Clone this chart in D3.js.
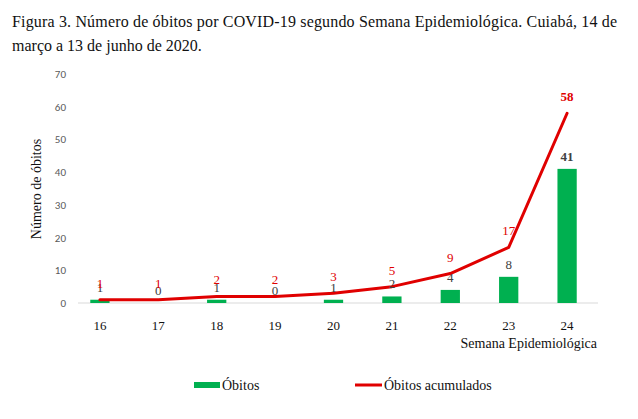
<!DOCTYPE html>
<html lang="pt">
<head>
  <meta charset="UTF-8">
  <title>Figura 3</title>
  <style>
    body { margin: 0; background: #fff; }
    svg text { font-family: 'Liberation Serif', 'Times New Roman', serif; }
  </style>
</head>
<body>
  <svg id="svg" width="638" height="419"></svg>

  <script src="https://d3js.org/d3.v7.min.js"></script>
  <script>
    const semanas = ['16', '17', '18', '19', '20', '21', '22', '23', '24']
    const obitos = [1, 0, 1, 0, 1, 2, 4, 8, 41]
    const acumulados = [1, 1, 2, 2, 3, 5, 9, 17, 58]
    const yTicks = [0, 10, 20, 30, 40, 50, 60, 70]

    const green = '#00b050'
    const red = '#e00000'

    const svg = d3.select('#svg')

    // title
    svg.append('text')
      .attr('x', 12).attr('y', 27)
      .attr('textLength', 605).attr('lengthAdjust', 'spacing')
      .style('font-size', '16px').attr('fill', '#111')
      .text('Figura 3. Número de óbitos por COVID-19 segundo Semana Epidemiológica. Cuiabá, 14 de')
    svg.append('text')
      .attr('x', 12).attr('y', 51)
      .style('font-size', '16px').attr('fill', '#111')
      .text('março a 13 de junho de 2020.')

    const x = d3.scaleBand()
      .domain(semanas)
      .range([71, 596])
      .paddingInner(0.67)
      .paddingOuter(0.33)

    const y = d3.scaleLinear()
      .domain([0, 70])
      .range([303, 74])

    // y axis labels
    svg.append('g')
      .selectAll('text')
      .data(yTicks)
      .enter()
      .append('text')
      .attr('x', 66)
      .attr('y', d => y(d) + 4)
      .attr('text-anchor', 'end')
      .style('font-family', 'Calibri, Carlito, "Liberation Sans", sans-serif')
      .style('font-size', '11px')
      .attr('fill', '#595959')
      .text(d => d)

    // baseline
    svg.append('line')
      .attr('x1', 78).attr('x2', 598)
      .attr('y1', y(0)).attr('y2', y(0))
      .attr('stroke', '#d9d9d9').attr('stroke-width', 1)

    // bars
    svg.append('g')
      .selectAll('rect')
      .data(obitos)
      .enter()
      .append('rect')
      .attr('x', (d, i) => x(semanas[i]))
      .attr('width', x.bandwidth())
      .attr('y', d => y(d))
      .attr('height', d => y(0) - y(d))
      .attr('fill', green)

    // line (straight segments)
    const line = d3.line()
      .x((d, i) => x(semanas[i]) + x.bandwidth() / 2)
      .y(d => y(d))

    svg.append('path')
      .datum(acumulados)
      .attr('d', line)
      .attr('fill', 'none')
      .attr('stroke', red)
      .attr('stroke-width', 3)
      .attr('stroke-linecap', 'round')
      .attr('stroke-linejoin', 'round')

    // bar labels
    svg.append('g')
      .selectAll('text')
      .data(obitos)
      .enter()
      .append('text')
      .attr('x', (d, i) => x(semanas[i]) + x.bandwidth() / 2)
      .attr('y', d => y(d) - 8)
      .attr('text-anchor', 'middle')
      .style('font-size', '13px')
      .style('font-weight', (d, i) => i === obitos.length - 1 ? 'bold' : 'normal')
      .attr('fill', '#404040')
      .text(d => d)

    // cumulative labels
    svg.append('g')
      .selectAll('text')
      .data(acumulados)
      .enter()
      .append('text')
      .attr('x', (d, i) => x(semanas[i]) + x.bandwidth() / 2)
      .attr('y', d => y(d) - 12)
      .attr('text-anchor', 'middle')
      .style('font-size', '13px')
      .style('font-weight', (d, i) => i === acumulados.length - 1 ? 'bold' : 'normal')
      .attr('fill', red)
      .text(d => d)

    // x tick labels
    svg.append('g')
      .selectAll('text')
      .data(semanas)
      .enter()
      .append('text')
      .attr('x', d => x(d) + x.bandwidth() / 2)
      .attr('y', 330)
      .attr('text-anchor', 'middle')
      .style('font-size', '13px')
      .attr('fill', '#111')
      .text(d => d)

    // axis titles
    svg.append('text')
      .attr('x', 597).attr('y', 348)
      .attr('text-anchor', 'end')
      .style('font-size', '14px')
      .attr('fill', '#111')
      .text('Semana Epidemiológica')

    svg.append('text')
      .attr('transform', 'translate(41,189) rotate(-90)')
      .attr('text-anchor', 'middle')
      .style('font-size', '14px')
      .attr('fill', '#111')
      .text('Número de óbitos')

    // legend
    const legend = svg.append('g')
    legend.append('rect')
      .attr('x', 194).attr('y', 382).attr('width', 26).attr('height', 6)
      .attr('fill', green)
    legend.append('text')
      .attr('x', 222).attr('y', 390)
      .style('font-size', '14px').attr('fill', '#111')
      .text('Óbitos')
    legend.append('line')
      .attr('x1', 355).attr('x2', 382).attr('y1', 385).attr('y2', 385)
      .attr('stroke', red).attr('stroke-width', 3)
    legend.append('text')
      .attr('x', 384).attr('y', 390)
      .style('font-size', '14px').attr('fill', '#111')
      .text('Óbitos acumulados')
  </script>
</body>
</html>
